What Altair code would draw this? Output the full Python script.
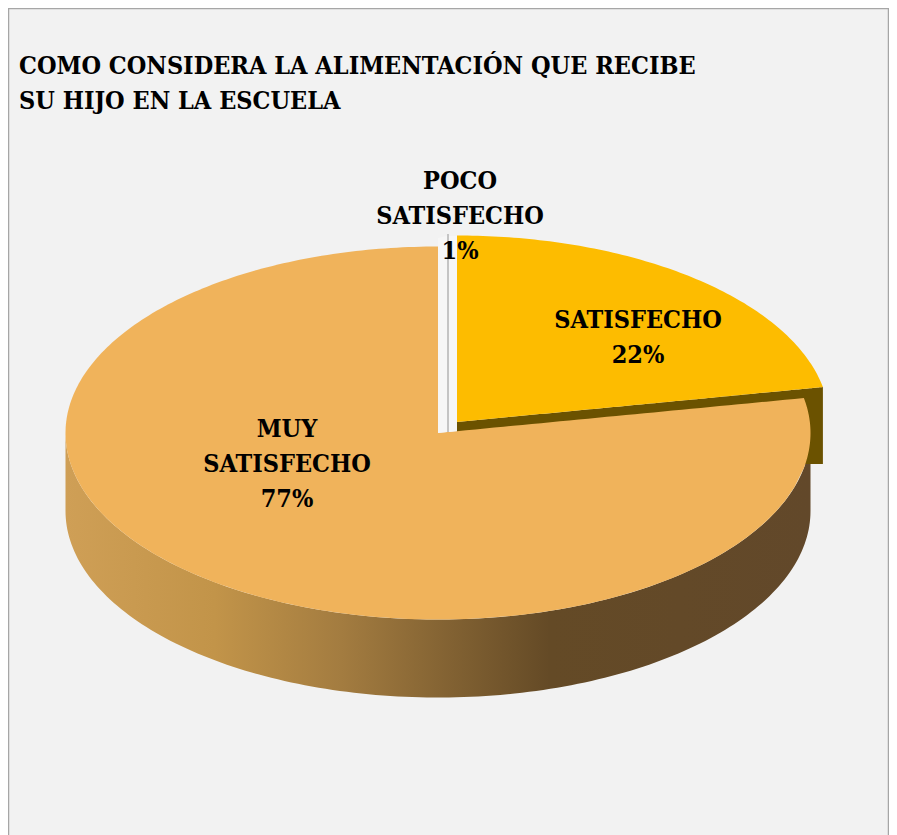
import numpy as np
import pandas as pd
import altair as alt

# ---- chart values ----
categories = ["MUY\nSATISFECHO", "SATISFECHO", "POCO\nSATISFECHO"]
shares = [77, 22, 1]
label_x = [287, 638, 460]
label_y = [437, 328, 189]
title_lines = ["COMO CONSIDERA LA ALIMENTACIÓN QUE RECIBE", "SU HIJO EN LA ESCUELA"]
title_y = [74, 109]

# ---- styling / geometry of the tilted pie (page pixel units) ----
W, H = 881, 827
BG = "#F2F2F2"
RX, RY, DEPTH = 372.5, 186.5, 78
MAIN_C = (438, 433)
SAT_C = (457, 422)
FONT = "DejaVu Serif Condensed"
TITLE_SIZE = 25
LABEL_SIZE = 25

xs = alt.Scale(domain=[8, 8 + W], nice=False, zero=False)
ys = alt.Scale(domain=[8, 8 + H], nice=False, zero=False, reverse=True)

sat_end = np.deg2rad(shares[1] * 3.6)


def area(df, **mark):
    return alt.Chart(df).mark_area(**mark).encode(
        x=alt.X("x:Q", scale=xs, axis=None),
        y=alt.Y("y:Q", scale=ys, axis=None),
        y2=alt.Y2("y2:Q"),
    )


def frame(x, y, y2):
    return pd.DataFrame({
        "x": np.asarray(x, dtype=float),
        "y": np.asarray(y, dtype=float),
        "y2": np.asarray(y2, dtype=float),
    })


def rim_below(x):
    return MAIN_C[1] + RY * np.sqrt(np.clip(1 - ((np.asarray(x) - MAIN_C[0]) / RX) ** 2, 0, 1))


# side wall of the big slice
t = np.linspace(-np.pi / 2, np.pi / 2, 160)
mx = MAIN_C[0] + RX * np.sin(t)
my = MAIN_C[1] + RY * np.cos(t)
main_side = frame(mx, my, my + DEPTH)

# top of the big slice, left half
a_left = np.linspace(-np.pi / 2, 0, 100)
lx = MAIN_C[0] + RX * np.sin(a_left)
main_top_left = frame(lx, MAIN_C[1] - RY * np.cos(a_left), rim_below(lx))

# top of the big slice, right half: notch along the 22% edge above
a_right = np.linspace(sat_end, np.pi / 2, 30)[1:]
edge_x = MAIN_C[0] + RX * np.sin(sat_end)
edge_y = MAIN_C[1] - RY * np.cos(sat_end)
rx_ = np.concatenate([np.linspace(MAIN_C[0], edge_x, 40), MAIN_C[0] + RX * np.sin(a_right)])
ry_ = np.concatenate([np.linspace(MAIN_C[1], edge_y, 40), MAIN_C[1] - RY * np.cos(a_right)])
main_top_right = frame(rx_, ry_, rim_below(rx_))

# 22% slice, top and side wall
a_sat = np.linspace(0, sat_end, 100)
sx = SAT_C[0] + RX * np.sin(a_sat)
sy = SAT_C[1] - RY * np.cos(a_sat)
tip_x, tip_y = sx[-1], sy[-1]
line_y = SAT_C[1] + (tip_y - SAT_C[1]) * (sx - SAT_C[0]) / (tip_x - SAT_C[0])
sat_top = frame(sx, sy, line_y)
sat_side = frame(sx, line_y, np.full(len(sx), tip_y + DEPTH - 1))

# 1% slice: a thin pale sliver between the two others
sliver_l = frame([438, 447], [238, 236], [433, 432])
sliver_r = frame([449, 457], [236, 236], [432, 431])
sliver_line = pd.DataFrame({"x": [448], "y": [234], "y2": [432]})

side_grad = alt.Gradient(
    gradient="linear", x1=0, x2=1, y1=0, y2=0,
    stops=[
        alt.GradientStop(offset=0, color="#CF9F56"),
        alt.GradientStop(offset=0.2, color="#C29449"),
        alt.GradientStop(offset=0.37, color="#A37C40"),
        alt.GradientStop(offset=0.65, color="#644A26"),
        alt.GradientStop(offset=1, color="#62482A"),
    ],
)

layers = [
    area(main_side, fill=side_grad),
    area(sat_side, color="#6B5200"),
    area(sat_top, color="#FDBC00"),
    area(main_top_left, color="#F0B35B"),
    area(main_top_right, color="#F0B35B"),
    area(sliver_l, color="#F6F6F6"),
    area(sliver_r, color="#F6F6F6"),
    alt.Chart(sliver_line).mark_rule(color="#B4B4B4", strokeWidth=1.5).encode(
        x=alt.X("x:Q", scale=xs, axis=None),
        y=alt.Y("y:Q", scale=ys, axis=None),
        y2="y2:Q",
    ),
]

labels = pd.DataFrame({
    "text": [f"{c}\n{s}%" for c, s in zip(categories, shares)],
    "x": label_x,
    "y": label_y,
})
layers.append(
    alt.Chart(labels).mark_text(
        font=FONT, fontWeight="bold", fontSize=LABEL_SIZE, color="#000000",
        align="center", baseline="alphabetic", lineBreak="\n", lineHeight=35,
    ).encode(
        x=alt.X("x:Q", scale=xs, axis=None),
        y=alt.Y("y:Q", scale=ys, axis=None),
        text="text:N",
    )
)

titles = pd.DataFrame({"text": title_lines, "x": [19, 19], "y": title_y})
layers.append(
    alt.Chart(titles).mark_text(
        font=FONT, fontWeight="bold", fontSize=TITLE_SIZE, color="#000000",
        align="left", baseline="alphabetic",
    ).encode(
        x=alt.X("x:Q", scale=xs, axis=None),
        y=alt.Y("y:Q", scale=ys, axis=None),
        text="text:N",
    )
)

border = "#A6A6A6"
blank = pd.DataFrame({"a": [0]})
layers += [
    alt.Chart(blank).mark_rule(color=border, strokeWidth=1.5).encode(
        x=alt.value(0.5), y=alt.value(0), y2=alt.value(H)),
    alt.Chart(blank).mark_rule(color=border, strokeWidth=1.5).encode(
        x=alt.value(W - 0.5), y=alt.value(0), y2=alt.value(H)),
    alt.Chart(blank).mark_rule(color=border, strokeWidth=1.5).encode(
        x=alt.value(0), x2=alt.value(W), y=alt.value(0.5)),
]

chart = alt.layer(*layers).properties(
    width=W, height=H, background=BG, padding=0,
    autosize=alt.AutoSizeParams(type="none"),
).configure_view(stroke=None)

chart.save("out.html", embed_options={"renderer": "svg", "actions": False})
